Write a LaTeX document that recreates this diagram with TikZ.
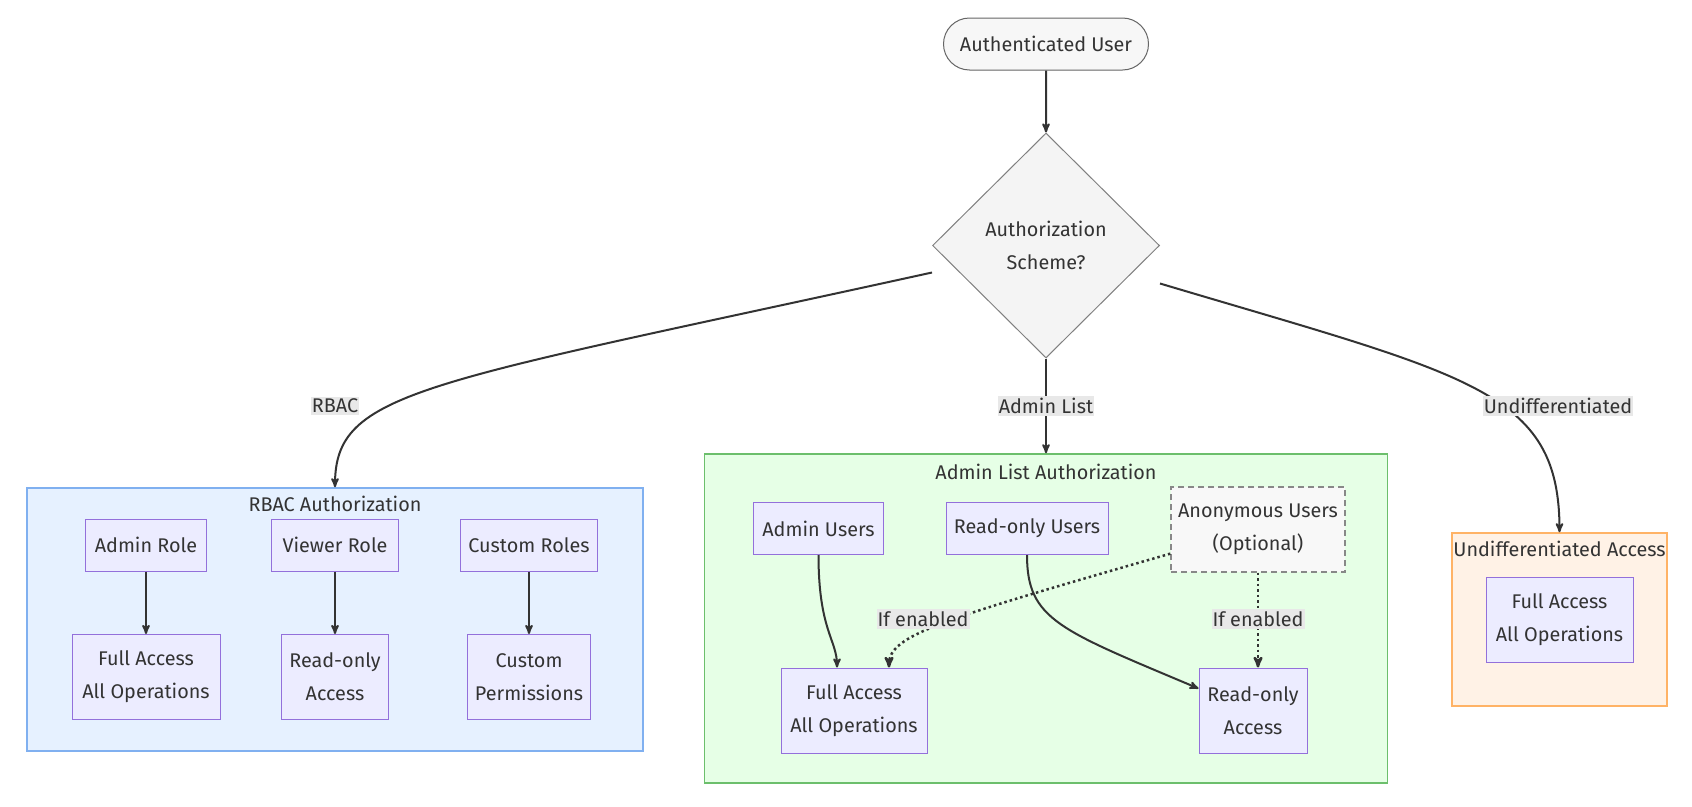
\documentclass[tikz,border=0pt]{standalone}
\usepackage{fontspec}
\setmainfont{Fira Sans}
\usetikzlibrary{%
  arrows,%
  shapes.misc,% wg. rounded rectangle
  shapes.geometric,% wg. diamond
  positioning,%
  calc%
}
\definecolor{txtgray}{HTML}{333333}
\definecolor{linegray}{HTML}{333333}
\definecolor{boxfill}{HTML}{ECECFF}
\definecolor{boxline}{HTML}{9370DB}
\definecolor{rbacfill}{HTML}{E6F1FF}
\definecolor{rbacline}{HTML}{80B0F0}
\definecolor{listfill}{HTML}{E6FFE6}
\definecolor{listline}{HTML}{6CBF6C}
\definecolor{undfill}{HTML}{FFF2E6}
\definecolor{undline}{HTML}{FFB366}
\definecolor{anonfill}{HTML}{F8F8F8}
\definecolor{anonline}{HTML}{888888}
\definecolor{startfill}{HTML}{F7F7F7}
\definecolor{choicefill}{HTML}{F4F4F4}
\definecolor{labelfill}{HTML}{E8E8E8}

\begin{document}
\begin{tikzpicture}
  [
  x=1pt, y=-1pt,
  font=\fontsize{19.8}{33}\selectfont,
  text=txtgray,
  line width=2pt,
  >=stealth',
  startnode/.style={rounded rectangle, draw=gray!80!black, fill=startfill, line width=1pt, minimum width=205pt, minimum height=52pt, inner sep=0pt},
  choicenode/.style={diamond, draw=gray, fill=choicefill, line width=1pt, minimum width=227pt, minimum height=225pt, inner sep=0pt, align=center},
  rolenode/.style={rectangle, draw=boxline, fill=boxfill, line width=1pt, minimum height=52pt, inner sep=0pt},
  accessnode/.style={rolenode, minimum height=85pt, align=center},
  groupbox/.style={rectangle, line width=1.5pt, inner sep=0pt},
  grouptitle/.style={inner sep=0pt},
  flowlabel/.style={fill=labelfill, inner xsep=1pt, inner ysep=2pt},
  link/.style={->, draw=linegray},
  optlink/.style={link, line width=2.5pt, dash pattern=on 2.5pt off 3pt},
  ]

  \path[use as bounding box, fill=white] (0,0) rectangle (1692,806);

  \node[groupbox, draw=rbacline, fill=rbacfill, minimum width=616pt, minimum height=263pt] (rbac) at (335,619.5) {};
  \node[groupbox, draw=listline, fill=listfill, minimum width=683pt, minimum height=329pt] (alist) at (1046,618.5) {};
  \node[groupbox, draw=undline, fill=undfill, minimum width=215pt, minimum height=173pt] (und) at (1559.5,619.5) {};
  \node[grouptitle] (rbactitle) at (335,504) {RBAC Authorization};
  \node[grouptitle] (alisttitle) at (1046,472) {Admin List Authorization};
  \node[grouptitle] (undtitle) at (1559.5,549) {Undifferentiated Access};

  \node[startnode] (user) at (1046,44) {Authenticated User};
  \node[choicenode] (scheme) at (1046,245.5) {Authorization\\Scheme?};

  \node[rolenode, minimum width=121pt] (admrole) at (146,545) {Admin Role};
  \node[rolenode, minimum width=127pt] (viewrole) at (335,545) {Viewer Role};
  \node[rolenode, minimum width=137pt] (custrole) at (529,545) {Custom Roles};
  \node[accessnode, minimum width=148pt] (fullrbac) at (146,677) {Full Access\\All Operations};
  \node[accessnode, minimum width=107pt] (readrbac) at (335,677) {Read-only\\Access};
  \node[accessnode, minimum width=123pt] (custperm) at (529,677) {Custom\\Permissions};

  \node[rolenode, minimum width=130pt] (admusers) at (818.5,528.5) {Admin Users};
  \node[rolenode, minimum width=162pt] (rousers) at (1027,528.5) {Read-only Users};
  \node[rolenode, draw=anonline, fill=anonfill, line width=1.3pt, dash pattern=on 6pt off 4pt, minimum width=174pt, minimum height=85pt, align=center] (anon) at (1258,529.5) {Anonymous Users\\(Optional)};
  \node[accessnode, minimum width=146pt] (fullal) at (854,710.5) {Full Access\\All Operations};
  \node[accessnode, minimum width=108pt] (roal) at (1253,710.5) {Read-only\\Access};

  \node[accessnode, minimum width=147pt] (fullund) at (1559.5,619.5) {Full Access\\All Operations};

  \draw[link] (user) -- (scheme);
  \draw[link] ($(scheme.west)+(0,27)$) .. controls (420,385) and (335,390) .. (rbac.north);
  \draw[link] (scheme.south) -- (alist.north);
  \draw[link] ($(scheme.east)+(0,38)$) .. controls (1470,376) and (1559.5,390) .. (und.north);

  \draw[link] (admrole) -- (fullrbac);
  \draw[link] (viewrole) -- (readrbac);
  \draw[link] (custrole) -- (custperm);

  \draw[link] (admusers.south) .. controls (818.5,630) and (837,640) .. ($(fullal.north)+(-17,0)$);
  \draw[link] (rousers.south) .. controls (1027,620) and (1060,630) .. ($(roal.west)+(0,-22)$);
  \draw[optlink] ($(anon.south west)+(0,-19)$) .. controls (940,620) and (889,635) .. ($(fullal.north)+(35,0)$);
  \draw[optlink] (anon.south) -- (anon.south |- roal.north);

  \node[flowlabel] (rbaclbl) at (335,406) {RBAC};
  \node[flowlabel] (alistlbl) at (1046,406) {Admin List};
  \node[flowlabel] (undlbl) at (1558,406) {Undifferentiated};
  \node[flowlabel] (anonlbl1) at (923,619) {If enabled};
  \node[flowlabel] (anonlbl2) at (1258,619) {If enabled};
\end{tikzpicture}
\end{document}
